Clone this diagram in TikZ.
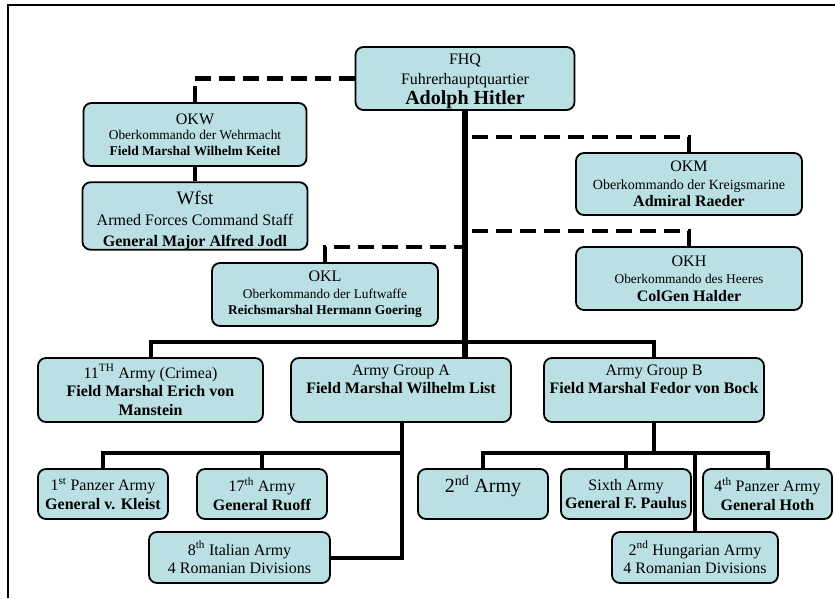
\documentclass[tikz,border=0pt]{standalone}
\usepackage{fontspec}
\setmainfont{Liberation Serif}
\usepackage{tikz}
\usetikzlibrary{positioning}
\definecolor{boxCyan}{RGB}{187,224,227}
\definecolor{mainBlack}{gray}{0.0}
\newcommand{\subline}{\fontsize{13.4}{15}\selectfont}
\newcommand{\bigline}{\fontsize{20}{22}\selectfont}

\begin{document}
\begin{tikzpicture}[x=1pt, y=-1pt,
    unit/.style={draw=mainBlack, line width=1.8pt, fill=boxCyan, rounded corners=8pt,
        inner sep=0pt, align=center, font=\fontsize{16}{#1}\selectfont},
    unit/.default=18.5,
    army/.style={unit, minimum width=130pt, minimum height=50pt},
    link/.style={mainBlack, line width=4pt},
    trunk/.style={mainBlack, line width=5.5pt},
    liaison/.style={mainBlack, line width=4.5pt, dash pattern=on 16pt off 8pt}]
    \useasboundingbox (0,0) rectangle (835,598);
    \draw[line width=1.8pt] (8,598) -- (8,5) -- (835,5);

    % high command
    \node[unit=20, minimum width=219pt, minimum height=63pt, text height=57pt] (fhq) at (465,78.5)
        {FHQ\\ Fuhrerhauptquartier\\ {\bigline\bfseries Adolph Hitler}};
    \node[unit=15.5, minimum width=223pt, minimum height=63pt] (okw) at (195,134.5)
        {OKW\\ {\subline Oberkommando der Wehrmacht}\\ {\subline\bfseries Field Marshal Wilhelm Keitel}};
    \node[unit=21, minimum width=225pt, minimum height=64pt, text height=64pt] (wfst) at (195,216)
        {{\fontsize{19}{21}\selectfont Wfst}\\ Armed Forces Command Staff\\ \textbf{General Major Alfred Jodl}};
    \node[unit=17.5, minimum width=226pt, minimum height=62pt] (okm) at (689,184)
        {OKM\\ {\fontsize{14}{16}\selectfont Oberkommando der Kreigsmarine}\\ \textbf{Admiral Raeder}};
    \node[unit=17.5, minimum width=226pt, minimum height=63pt] (okh) at (689,278.5)
        {OKH\\ {\subline Oberkommando des Heeres}\\ \textbf{ColGen Halder}};
    \node[unit=16.5, minimum width=226pt, minimum height=63pt] (okl) at (325,294.5)
        {OKL\\ {\subline Oberkommando der Luftwaffe}\\ {\subline\bfseries Reichsmarshal Hermann Goering}};

    % army groups
    \node[unit, minimum width=225pt, minimum height=64pt] (crimea) at (150.5,390)
        {11\textsuperscript{TH} Army (Crimea)\\ \textbf{Field Marshal Erich von}\\ \textbf{Manstein}};
    \node[unit, minimum width=220pt, minimum height=64pt, text depth=22pt] (groupA) at (401,390)
        {Army Group A\\ \textbf{Field Marshal Wilhelm List}};
    \node[unit, minimum width=220pt, minimum height=64pt, text depth=22pt] (groupB) at (654,390)
        {Army Group B\\ \textbf{Field Marshal Fedor von Bock}};

    % armies
    \node[army] (panzer1) at (103,494) {1\textsuperscript{st} Panzer Army\\ \textbf{General v. Kleist}};
    \node[army] (army17) at (262,494) {17\textsuperscript{th} Army\\ \textbf{General Ruoff}};
    \node[army, minimum width=181pt, minimum height=51pt] (italian8) at (239.5,557.5)
        {8\textsuperscript{th} Italian Army\\ 4 Romanian Divisions};
    \node[army, text depth=20pt] (army2) at (483,494) {{\bigline 2\textsuperscript{nd} Army}};
    \node[army] (army6) at (626,494) {Sixth Army\\ \textbf{General F. Paulus}};
    \node[army, minimum width=129pt] (panzer4) at (767.5,494) {4\textsuperscript{th} Panzer Army\\ \textbf{General Hoth}};
    \node[army, minimum width=166pt, minimum height=51pt] (hungarian2) at (695,557.5)
        {2\textsuperscript{nd} Hungarian Army\\ 4 Romanian Divisions};

    \coordinate (okmTap) at (465,137);
    \coordinate (okhTap) at (465,231);
    \coordinate (oklTap) at (465,247);
    \coordinate (groupBus) at (465,342);
    \coordinate (busA) at (402,453);
    \coordinate (busB) at (654,453);

    % staff links (dashed)
    \draw[liaison] (okw.north) |- (fhq.west);
    \draw[liaison] (okm.north) |- (okmTap);
    \draw[liaison] (okh.north) |- (okhTap);
    \draw[liaison] (okl.north) |- (oklTap);

    % command links
    \draw[trunk] (fhq.south) -- (groupA.north -| fhq.south);
    \draw[link] (okw.south) -- (wfst.north);
    \draw[link] (crimea.north) |- (groupBus) -| (groupB.north);
    \draw[link] (groupA.south -| busA) |- (italian8.east);
    \draw[link] (panzer1.north) |- (busA);
    \draw[link] (army17.north) -- (army17.north |- busA);
    \draw[link] (groupB.south) -- (busB);
    \draw[link] (army2.north) |- (busB) -| (panzer4.north);
    \draw[link] (army6.north) -- (army6.north |- busB);
    \draw[link] (hungarian2.north) -- (hungarian2.north |- busB);
\end{tikzpicture}
\end{document}
